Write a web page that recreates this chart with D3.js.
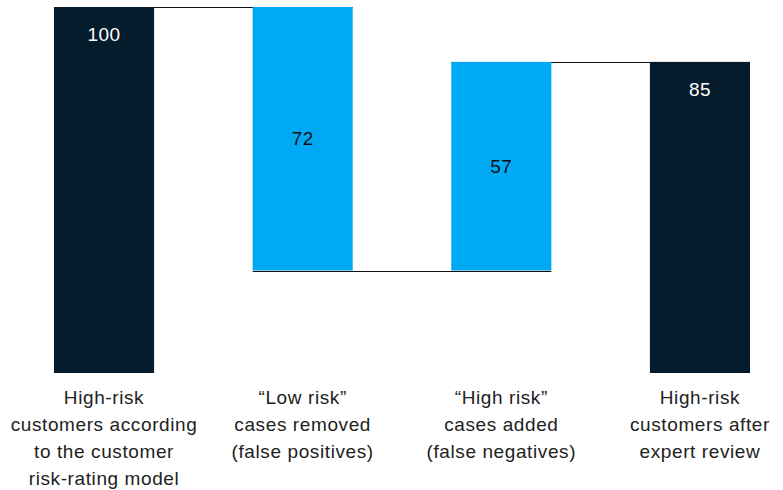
<!DOCTYPE html>
<html>
<head>
<meta charset="utf-8">
<script src="https://cdn.jsdelivr.net/npm/d3@7"></script>
<style>
  body { margin: 0; background: #fff; }
  text { font-family: "Liberation Sans", Arial, sans-serif; }
</style>
</head>
<body>
<svg id="chart" width="783" height="490"></svg>
<script>
var categories = [
  ["High-risk", "customers according", "to the customer", "risk-rating model"],
  ["\u201cLow risk\u201d", "cases removed", "(false positives)"],
  ["\u201cHigh risk\u201d", "cases added", "(false negatives)"],
  ["High-risk", "customers after", "expert review"]
];
var values = [100, -72, 57, 85];
var kinds = ["total", "delta", "delta", "total"];

var svg = d3.select("#chart");
var margin = {top: 7, right: 34, bottom: 117, left: 54};
var width = +svg.attr("width") - margin.left - margin.right;
var height = +svg.attr("height") - margin.top - margin.bottom;
var g = svg.append("g").attr("transform", "translate(" + margin.left + "," + margin.top + ")");

// start/end of each step
var running = 0;
var bars = values.map(function(v, i) {
  var b;
  if (kinds[i] === "total") {
    b = {i: i, y0: 0, y1: v, label: Math.abs(v), kind: "total"};
    running = v;
  } else {
    b = {i: i, y0: running, y1: running + v, label: Math.abs(v), kind: "delta"};
    running = running + v;
  }
  return b;
});

var x = d3.scaleBand()
  .domain(d3.range(values.length))
  .range([0, width + 1])
  .paddingInner(0.985 / 1.985)
  .paddingOuter(0);

var y = d3.scaleLinear().domain([0, 100]).range([height, 0]);

var color = {total: "#051c2c", delta: "#00a9f4"};

// connectors
for (var k = 0; k < bars.length - 1; k++) {
  var lvl = bars[k].y1;
  g.append("line")
    .attr("x1", x(k))
    .attr("x2", x(k + 1) + x.bandwidth())
    .attr("y1", Math.round(y(lvl)) + 0.5)
    .attr("y2", Math.round(y(lvl)) + 0.5)
    .attr("stroke", "#111")
    .attr("stroke-width", 1);
}

g.selectAll("rect.bar")
  .data(bars)
  .enter().append("rect")
  .attr("class", "bar")
  .attr("x", function(d) { return x(d.i); })
  .attr("y", function(d) { return y(Math.max(d.y0, d.y1)); })
  .attr("width", x.bandwidth())
  .attr("height", function(d) { return Math.abs(y(d.y0) - y(d.y1)); })
  .attr("fill", function(d) { return color[d.kind]; });

g.selectAll("text.val")
  .data(bars)
  .enter().append("text")
  .attr("class", "val")
  .attr("x", function(d) { return x(d.i) + x.bandwidth() / 2; })
  .attr("y", function(d) {
    if (d.kind === "total") return y(d.y1) + 27;
    return y((d.y0 + d.y1) / 2);
  })
  .attr("dy", "0.35em")
  .attr("text-anchor", "middle")
  .attr("font-size", 19)
  .attr("letter-spacing", 0.4)
  .attr("fill", function(d) { return d.kind === "total" ? "#fff" : "#111"; })
  .text(function(d) { return d.label; });

var cat = g.selectAll("text.cat")
  .data(categories)
  .enter().append("text")
  .attr("class", "cat")
  .attr("x", function(d, i) { return x(i) + x.bandwidth() / 2; })
  .attr("y", height + 31)
  .attr("text-anchor", "middle")
  .attr("font-size", 19)
  .attr("letter-spacing", 0.6)
  .attr("fill", "#222");

cat.selectAll("tspan")
  .data(function(d) { return d; })
  .enter().append("tspan")
  .attr("x", function() { return d3.select(this.parentNode).attr("x"); })
  .attr("dy", function(d, i) { return i === 0 ? 0 : 27; })
  .text(function(d) { return d; });
</script>
</body>
</html>
